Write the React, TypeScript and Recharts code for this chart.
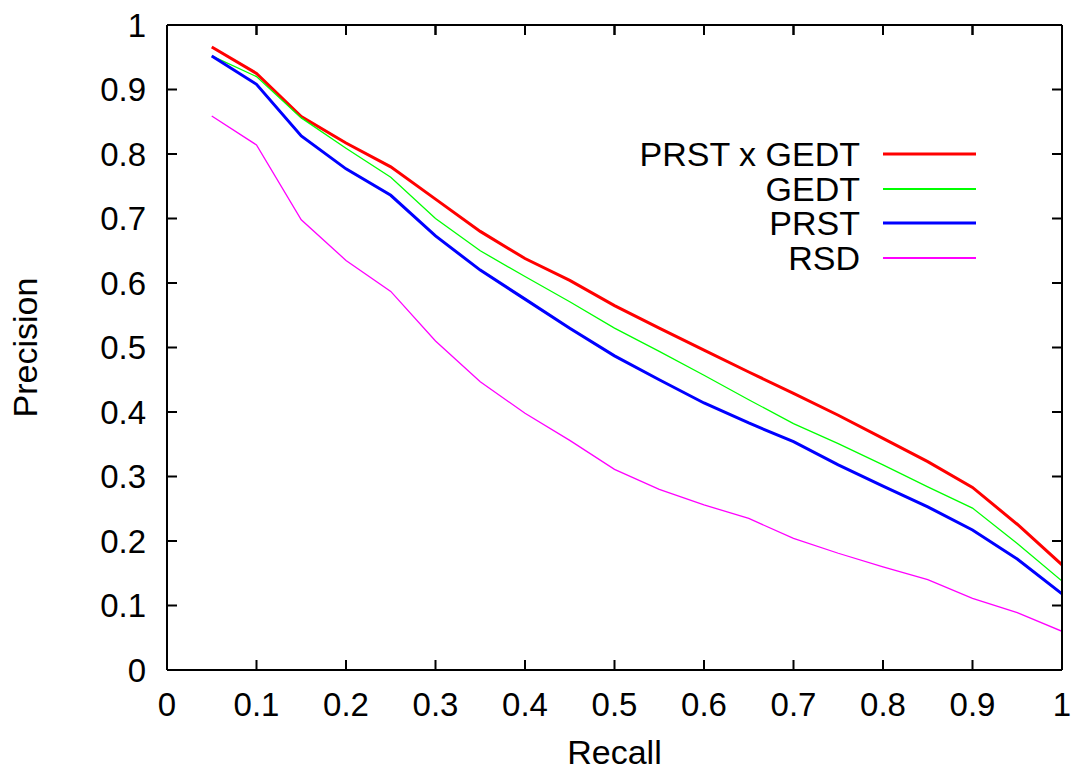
import { LineChart, Line, XAxis, YAxis, Legend, ReferenceLine } from 'recharts';

const recall = [0.05, 0.1, 0.15, 0.2, 0.25, 0.3, 0.35, 0.4, 0.45, 0.5, 0.55, 0.6, 0.65, 0.7, 0.75, 0.8, 0.85, 0.9, 0.95, 1.0];
const prstGedt = [0.966, 0.925, 0.858, 0.817, 0.78, 0.73, 0.68, 0.638, 0.604, 0.565, 0.53, 0.496, 0.462, 0.429, 0.395, 0.359, 0.323, 0.283, 0.226, 0.163];
const gedt = [0.952, 0.92, 0.856, 0.809, 0.764, 0.7, 0.65, 0.61, 0.571, 0.53, 0.494, 0.457, 0.419, 0.382, 0.351, 0.318, 0.284, 0.251, 0.196, 0.138];
const prst = [0.952, 0.908, 0.828, 0.777, 0.736, 0.673, 0.62, 0.575, 0.53, 0.487, 0.45, 0.414, 0.383, 0.354, 0.318, 0.285, 0.253, 0.217, 0.172, 0.118];
const rsd = [0.859, 0.814, 0.698, 0.635, 0.587, 0.51, 0.447, 0.398, 0.356, 0.311, 0.28, 0.256, 0.235, 0.204, 0.181, 0.16, 0.14, 0.111, 0.089, 0.06];

const xTicks = [0, 0.1, 0.2, 0.3, 0.4, 0.5, 0.6, 0.7, 0.8, 0.9, 1];
const yTicks = [0, 0.1, 0.2, 0.3, 0.4, 0.5, 0.6, 0.7, 0.8, 0.9, 1];

const data = recall.map((r, i) => ({
  recall: r,
  prstGedt: prstGedt[i],
  gedt: gedt[i],
  prst: prst[i],
  rsd: rsd[i],
}));

// legend order is the plot order
const series = [
  { key: 'prstGedt', name: 'PRST x GEDT', color: '#ff0000', width: 3 },
  { key: 'gedt', name: 'GEDT', color: '#00ff00', width: 1.3 },
  { key: 'prst', name: 'PRST', color: '#0000ff', width: 3 },
  { key: 'rsd', name: 'RSD', color: '#ff00ff', width: 1.3 },
];

const FONT = '"Liberation Sans", Arial, Helvetica, sans-serif';
const tickStyle = { fontSize: 33, fill: '#000', fontFamily: FONT };
const axisStroke = { stroke: '#000', strokeWidth: 2 };
const noTick = () => <g />;
// gnuplot style inward tick on the top border, ~10px of the 645px plot height
const TOP_TICK = 10 / 645;

function LegendBox() {
  return (
    <svg width={380} height={150} style={{ display: 'block' }}>
      {series.map((s, i) => {
        const y = 18 + Math.round(i * 34.5);
        return (
          <g key={s.key}>
            <text x={252} y={y} textAnchor="end" dominantBaseline="central" fontSize={34} fontFamily={FONT} fill="#000">
              {s.name}
            </text>
            <line x1={275} x2={368} y1={y} y2={y} stroke={s.color} strokeWidth={s.width === 3 ? 3 : 2} />
          </g>
        );
      })}
    </svg>
  );
}

export default function App() {
  return (
    <div style={{ position: 'absolute', left: 0, top: 0 }}>
      <LineChart width={1071} height={771} data={data} margin={{ top: 0, right: 8, bottom: 0, left: 0 }}>
        <XAxis
          dataKey="recall"
          type="number"
          domain={[0, 1]}
          ticks={xTicks}
          interval={0}
          allowDataOverflow
          height={101}
          tickSize={-10}
          tickMargin={33}
          tick={tickStyle}
          axisLine={axisStroke}
          tickLine={axisStroke}
          label={{
            content: ({ viewBox }: any) => (
              <text x={viewBox.x + viewBox.width / 2} y={viewBox.y + 94} textAnchor="middle" fontSize={34} fontFamily={FONT} fill="#000">
                Recall
              </text>
            ),
          }}
        />
        <XAxis
          xAxisId="top"
          dataKey="recall"
          orientation="top"
          type="number"
          domain={[0, 1]}
          ticks={xTicks}
          interval={0}
          allowDataOverflow
          height={25}
          tickSize={-10}
          tick={noTick}
          axisLine={axisStroke}
          tickLine={axisStroke}
        />
        <YAxis
          type="number"
          domain={[0, 1]}
          ticks={yTicks}
          interval={0}
          allowDataOverflow
          width={167}
          tickSize={-10}
          tickMargin={31}
          tick={tickStyle}
          axisLine={axisStroke}
          tickLine={axisStroke}
          label={{
            content: ({ viewBox }: any) => {
              const cx = 37;
              const cy = viewBox.y + viewBox.height / 2;
              return (
                <text x={cx} y={cy} transform={`rotate(-90, ${cx}, ${cy})`} textAnchor="middle" fontSize={34} fontFamily={FONT} fill="#000">
                  Precision
                </text>
              );
            },
          }}
        />
        <YAxis
          yAxisId="right"
          orientation="right"
          type="number"
          domain={[0, 1]}
          ticks={yTicks}
          interval={0}
          allowDataOverflow
          width={1}
          tickSize={-10}
          tick={noTick}
          axisLine={axisStroke}
          tickLine={axisStroke}
        />
        <Legend
          layout="vertical"
          verticalAlign="middle"
          align="center"
          wrapperStyle={{ left: 608, top: 136, width: 380 }}
          content={LegendBox}
        />
        {xTicks.map((t) => (
          <ReferenceLine
            key={`top-${t}`}
            segment={[
              { x: t, y: 1 },
              { x: t, y: 1 - TOP_TICK },
            ]}
            stroke="#000"
            strokeWidth={2}
          />
        ))}
        {/* invisible copy bound to the mirrored top axis so it gets the same scale */}
        <Line
          dataKey="rsd"
          xAxisId="top"
          stroke="none"
          dot={false}
          activeDot={false}
          legendType="none"
          isAnimationActive={false}
        />
        {series.map((s) => (
          <Line
            key={s.key}
            dataKey={s.key}
            name={s.name}
            stroke={s.color}
            strokeWidth={s.width}
            dot={false}
            isAnimationActive={false}
          />
        ))}
      </LineChart>
    </div>
  );
}
